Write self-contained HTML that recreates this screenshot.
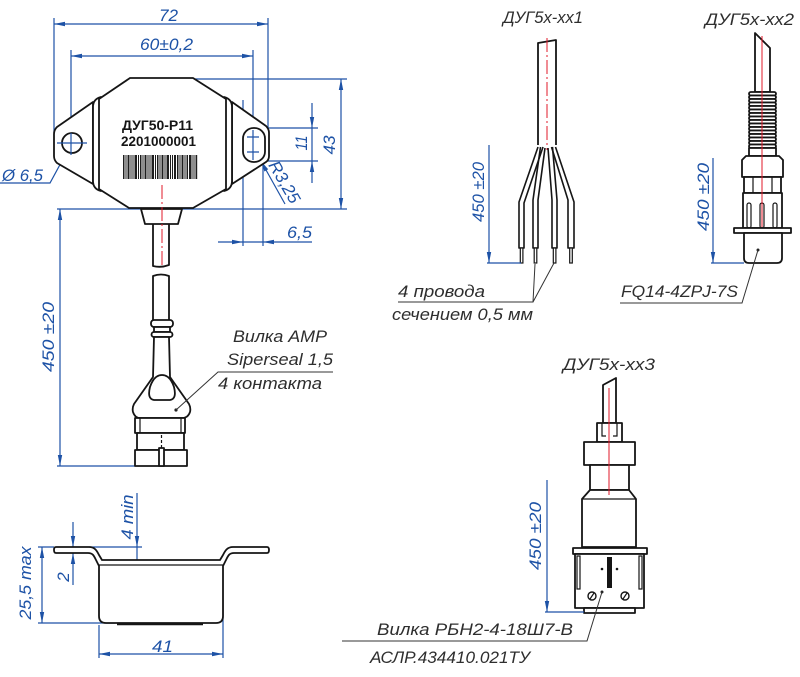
<!DOCTYPE html>
<html><head><meta charset="utf-8"><style>
html,body{margin:0;padding:0;background:#fff;}
svg{display:block;}
.b{stroke:#1d52a6;stroke-width:1.2;fill:none;}
.ba{fill:#1d52a6;stroke:none;}
.k{stroke:#151515;stroke-width:1.8;fill:#fff;stroke-linejoin:round;}
.kn{stroke:#151515;stroke-width:1.8;fill:none;stroke-linejoin:round;}
.kt{stroke:#151515;stroke-width:1.2;fill:none;}
.r{stroke:#e0192a;stroke-width:1;fill:none;}
.dt{font-family:"Liberation Sans",sans-serif;font-style:italic;font-size:17px;fill:#1d52a6;}
.lt{font-family:"Liberation Sans","Noto Sans CJK SC",sans-serif;font-style:italic;font-size:17px;fill:#2e2e2e;}
.bt{font-family:"Liberation Sans",sans-serif;font-weight:bold;font-size:13.5px;fill:#151515;}
</style></head><body>
<svg width="800" height="677" viewBox="0 0 800 677" xmlns="http://www.w3.org/2000/svg">
<rect width="800" height="677" fill="#fff"/>

<!-- ============ MAIN SENSOR TOP VIEW ============ -->
<g class="b">
  <path d="M54,24 L268,24 M54,18 L54,133 M268,18 L268,128"/>
  <path d="M71,56 L253,56 M71,50 L71,155 M253,50 L253,157"/>
  <path d="M191,79 L347,79 M57,209 L347,209 M341,79 L341,209"/>
  <path d="M312,103 L312,183 M267,128 L318,128 M263,161 L318,161"/>
  <path d="M218,242 L312,242 M243,100 L243,246 M263,160 L263,246"/>
  <path d="M88,113 L50,183 L0,183"/>
  <path d="M57,143 L87,143"/>
  <path d="M247,137 L259,137 M247,152 L259,152"/>
  <path d="M261,161 L285,204"/>
  <path d="M60,209 L60,466 M57,466 L135,466"/>
</g>
<g class="ba">
  <polygon points="54,24 65,21.8 65,26.2"/>
  <polygon points="268,24 257,21.8 257,26.2"/>
  <polygon points="71,56 82,53.8 82,58.2"/>
  <polygon points="253,56 242,53.8 242,58.2"/>
  <polygon points="341,79 338.8,90 343.2,90"/>
  <polygon points="341,209 338.8,198 343.2,198"/>
  <polygon points="312,128 309.8,117 314.2,117"/>
  <polygon points="312,161 309.8,172 314.2,172"/>
  <polygon points="243,242 232,239.8 232,244.2"/>
  <polygon points="263,242 274,239.8 274,244.2"/>
  <polygon points="75.8,135.2 82.9,126.5 79.1,124.5"/>
  <polygon points="66.2,152.8 62.9,163.6 59.1,161.5"/>
  <polygon points="261,161 264.4,171.5 268.2,169.3"/>
  <polygon points="60,209 57.8,220 62.2,220"/>
  <polygon points="60,466 57.8,455 62.2,455"/>
</g>
<text class="dt" x="159" y="21" textLength="19" lengthAdjust="spacingAndGlyphs">72</text>
<text class="dt" x="140" y="50" textLength="53" lengthAdjust="spacingAndGlyphs">60±0,2</text>
<text class="dt" x="2" y="181" textLength="41" lengthAdjust="spacingAndGlyphs">Ø 6,5</text>
<text class="dt" x="287" y="238" textLength="25" lengthAdjust="spacingAndGlyphs">6,5</text>
<text class="dt" transform="translate(307,143) rotate(-90)" text-anchor="middle" textLength="15" lengthAdjust="spacingAndGlyphs">11</text>
<text class="dt" transform="translate(335,145) rotate(-90)" text-anchor="middle" textLength="19" lengthAdjust="spacingAndGlyphs">43</text>
<text class="dt" transform="translate(268,165) rotate(60)" textLength="46" lengthAdjust="spacingAndGlyphs">R3,25</text>
<text class="dt" transform="translate(54,337) rotate(-90)" text-anchor="middle" textLength="70" lengthAdjust="spacingAndGlyphs">450 ±20</text>

<path class="k" d="M93,102 L57,127 Q54,130 54,134 L54,156 Q54,160 57,163 L93,184 Z"/>
<path class="k" d="M232,102 L266,126 Q269,129 269,133 L269,156 Q269,160 266,162 L232,184 Z"/>
<circle class="kn" cx="72" cy="143" r="10"/>
<rect class="kn" x="243" y="128" width="22" height="34" rx="10.5"/>
<path class="b" d="M57,143 L87,143 M71,133 L71,155 M247,137 L259,137 M247,152 L259,152 M253,130 L253,160"/>
<path class="k" d="M101,97 Q93,99 93,107 L93,181 Q93,189 101,191 Z"/>
<path class="k" d="M224,97 Q232,99 232,107 L232,181 Q232,189 224,191 Z"/>
<path class="k" d="M130,78 L193,78 L226,99 L226,189 L193,208 L129,208 L99,189 L99,99 Z"/>
<text class="bt" x="122" y="130" textLength="71" lengthAdjust="spacingAndGlyphs">ДУГ50-Р11</text>
<text class="bt" x="121" y="146" textLength="75" lengthAdjust="spacingAndGlyphs">2201000001</text>
<g fill="#1e1e1e">
<rect x="123" y="155" width="1.5" height="24"/><rect x="125.5" y="155" width="1" height="24"/>
<rect x="127.5" y="155" width="2" height="24"/><rect x="130.5" y="155" width="1" height="24"/>
<rect x="132.5" y="155" width="1" height="24"/><rect x="134.5" y="155" width="2.5" height="24"/>
<rect x="138" y="155" width="1" height="24"/><rect x="140" y="155" width="1.5" height="24"/>
<rect x="142.5" y="155" width="1" height="24"/><rect x="144.5" y="155" width="2" height="24"/>
<rect x="147.5" y="155" width="1" height="24"/><rect x="149.5" y="155" width="1" height="24"/>
<rect x="151.5" y="155" width="2.5" height="24"/><rect x="155" y="155" width="1" height="24"/>
<rect x="157" y="155" width="1.5" height="24"/><rect x="159.5" y="155" width="1" height="24"/>
<rect x="161.5" y="155" width="2" height="24"/><rect x="164.5" y="155" width="1" height="24"/>
<rect x="166.5" y="155" width="2.5" height="24"/><rect x="170" y="155" width="1" height="24"/>
<rect x="172" y="155" width="1" height="24"/><rect x="174" y="155" width="2" height="24"/>
<rect x="177" y="155" width="1.5" height="24"/><rect x="179.5" y="155" width="1" height="24"/>
<rect x="181.5" y="155" width="2" height="24"/><rect x="184.5" y="155" width="1" height="24"/>
<rect x="186.5" y="155" width="1.5" height="24"/><rect x="189" y="155" width="2.5" height="24"/>
<rect x="192.5" y="155" width="1" height="24"/><rect x="194.5" y="155" width="1" height="24"/>
<rect x="196" y="155" width="1.2" height="24"/>
</g>
<path class="k" d="M141,209 L182,209 L178,224 L145,224 Z"/>
<path class="kn" d="M153,224 L153,266 Q161,268 169,265 L169,224"/>
<path class="r" stroke-dasharray="14,3,2,3" d="M162,185 L162,266"/>
<path class="kn" d="M153,320 L153,276 Q161,273 169,276 L169,320"/>
<rect class="k" x="151" y="320" width="22" height="7" rx="3"/>
<rect class="k" x="154" y="327" width="16" height="5"/>
<rect class="k" x="151.5" y="332" width="21" height="5" rx="2.5"/>
<path class="k" d="M154,337 L153,377 L134,404 Q132,408 133,412 Q135,418 140,418 L182,418 Q188,418 190,412 Q191,408 189,404 L170,377 L169,337 Z"/>
<path class="kn" d="M162,375 Q170,375 174,387 Q177,399 170,400 L154,400 Q147,399 150,387 Q154,375 162,375 Z"/>
<rect class="k" x="135" y="418" width="50" height="15"/>
<path class="kt" d="M140,418 L140,433 M181,418 L181,433"/>
<rect class="k" x="137" y="433" width="47" height="17"/>
<rect class="k" x="135" y="450" width="52" height="16"/>
<rect class="k" x="159" y="448" width="5" height="18"/>
<path class="kt" stroke-dasharray="3,2" d="M161.5,435 L161.5,448"/>
<circle cx="176" cy="410" r="1.6" fill="#222"/>
<path d="M176,410 L218,372 L333,372" stroke="#333" stroke-width="1" fill="none"/>
<text class="lt" x="233" y="342" textLength="94" lengthAdjust="spacingAndGlyphs">Вилка AMP</text>
<text class="lt" x="227" y="365" textLength="106" lengthAdjust="spacingAndGlyphs">Siperseal 1,5</text>
<text class="lt" x="218" y="389" textLength="104" lengthAdjust="spacingAndGlyphs">4 контакта</text>

<!-- ============ SIDE VIEW ============ -->
<g class="b">
  <path d="M42,547 L42,623 M38,547 L54,547 M38,623 L115,623"/>
  <path d="M73,522 L73,585"/>
  <path d="M137,493 L137,583 M89,547 L142,547"/>
  <path d="M99,654 L223,654 M99,625 L99,658 M223,600 L223,658"/>
</g>
<g class="ba">
  <polygon points="42,547 39.8,558 44.2,558"/>
  <polygon points="42,623 39.8,612 44.2,612"/>
  <polygon points="73,547 70.8,536 75.2,536"/>
  <polygon points="73,553 70.8,564 75.2,564"/>
  <polygon points="137,547 134.8,536 139.2,536"/>
  <polygon points="137,565 134.8,576 139.2,576"/>
  <polygon points="99,654 110,651.8 110,656.2"/>
  <polygon points="223,654 212,651.8 212,656.2"/>
</g>
<path class="k" d="M56,547 L89,547 C95,547 97,551 99,555 L102,560 L220,560 L223,555 C225,551 227,547 233,547 L267,547 Q269,547 269,550 Q269,553 267,553 L234,553 C229,553 228,556 226,560 L223,566 L223,616 Q223,623 216,623 L106,623 Q99,623 99,616 L99,566 L96,560 C94,556 93,553 88,553 L56,553 Q54,553 54,550 Q54,547 56,547 Z"/>
<path class="kt" d="M99,565 L223,565"/>
<path d="M117,624 L203,624" stroke="#151515" stroke-width="2.5"/>
<text class="dt" transform="translate(31,583) rotate(-90)" text-anchor="middle" textLength="73" lengthAdjust="spacingAndGlyphs">25,5 max</text>
<text class="dt" transform="translate(69,577) rotate(-90)" text-anchor="middle">2</text>
<text class="dt" transform="translate(133,517) rotate(-90)" text-anchor="middle" textLength="45" lengthAdjust="spacingAndGlyphs">4 min</text>
<text class="dt" x="152" y="652" textLength="21" lengthAdjust="spacingAndGlyphs">41</text>

<!-- ============ VARIANT 1 ============ -->
<text class="lt" x="503" y="23" textLength="80" lengthAdjust="spacingAndGlyphs">ДУГ5х-хх1</text>
<path class="kn" d="M538,145 L538,43 L556,40 L556,145"/>
<path class="r" stroke-dasharray="14,3,2,3" d="M547,38 L547,150"/>
<g class="kn" style="stroke-width:1.6">
  <path d="M538,147 L519,202 L519,248 L524,248 L524,203 L543,147"/>
  <path d="M540.5,147 L533,200 L533,248 L538,248 L538,200 L545,148"/>
  <path d="M548,148 L552,200 L552,248 L557,248 L557,200 L552.5,147"/>
  <path d="M551.5,147 L568,200 L568,248 L574,248 L574,202 L555.5,147"/>
</g>
<g class="kt" style="fill:#fff">
  <rect x="520.3" y="248" width="2.6" height="15"/>
  <rect x="534.2" y="248" width="2.6" height="15"/>
  <rect x="553.3" y="248" width="2.6" height="15"/>
  <rect x="569.7" y="248" width="2.6" height="15"/>
</g>
<path class="b" d="M489,145 L489,263 M487,263 L521,263"/>
<polygon class="ba" points="489,263 486.8,252 491.2,252"/>
<text class="dt" transform="translate(484,192) rotate(-90)" text-anchor="middle" textLength="60" lengthAdjust="spacingAndGlyphs">450 ±20</text>
<path d="M398,302 L533,302 L535,264 M533,302 L554,263" stroke="#333" stroke-width="1" fill="none"/>
<text class="lt" x="398" y="297" textLength="87" lengthAdjust="spacingAndGlyphs">4 провода</text>
<text class="lt" x="392" y="320" textLength="141" lengthAdjust="spacingAndGlyphs">сечением 0,5 мм</text>

<!-- ============ VARIANT 2 ============ -->
<text class="lt" x="705" y="25" textLength="89" lengthAdjust="spacingAndGlyphs">ДУГ5х-хх2</text>
<path class="k" d="M755,92 L755,33 L770,48 L770,92 Z"/>
<g class="kt" style="fill:#fff;stroke-width:1.8">
  <rect x="749" y="92" width="27" height="3.5" rx="1.7"/>
  <rect x="749" y="95.5" width="27" height="3.5" rx="1.7"/>
  <rect x="749" y="99" width="27" height="3.5" rx="1.7"/>
  <rect x="749" y="102.5" width="27" height="3.5" rx="1.7"/>
  <rect x="749" y="106" width="27" height="3.5" rx="1.7"/>
  <rect x="749" y="109.5" width="27" height="3.5" rx="1.7"/>
  <rect x="749" y="113" width="27" height="3.5" rx="1.7"/>
  <rect x="749" y="116.5" width="27" height="3.5" rx="1.7"/>
  <rect x="749" y="120" width="27" height="3.5" rx="1.7"/>
  <rect x="749" y="123.5" width="27" height="3.5" rx="1.7"/>
  <rect x="749" y="127" width="27" height="3.5" rx="1.7"/>
  <rect x="749" y="130.5" width="27" height="3.5" rx="1.7"/>
  <rect x="749" y="134" width="27" height="3.5" rx="1.7"/>
  <rect x="749" y="137.5" width="27" height="3.5" rx="1.7"/>
  <rect x="749" y="141" width="27" height="3.5" rx="1.7"/>
  <rect x="749" y="144.5" width="27" height="3.5" rx="1.7"/>
</g>
<rect class="k" x="749" y="148" width="27" height="8"/>
<path class="k" d="M742,177 L742,160 L746,156 L779,156 L783,160 L783,177 Z"/>
<rect class="k" x="744" y="177" width="37" height="16"/>
<path class="kt" d="M753,177 L753,193 M772,177 L772,193"/>
<rect class="k" x="743" y="193" width="39" height="35"/>
<g class="kt">
  <rect x="747" y="203" width="4" height="25" rx="2"/>
  <rect x="760" y="203" width="4" height="25" rx="2"/>
  <rect x="773" y="203" width="4" height="25" rx="2"/>
</g>
<rect class="k" x="734" y="228" width="57" height="5"/>
<path class="k" d="M744,233 L744,258 Q744,263 749,263 L777,263 Q782,263 782,258 L782,233 Z"/>
<path class="r" d="M762,36 L762,227"/>
<path class="b" d="M713,158 L713,263 M711,263 L744,263"/>
<polygon class="ba" points="713,263 710.8,252 715.2,252"/>
<text class="dt" transform="translate(709,197) rotate(-90)" text-anchor="middle" textLength="68" lengthAdjust="spacingAndGlyphs">450 ±20</text>
<circle cx="758" cy="250" r="1.5" fill="#222"/>
<path d="M620,303 L742,303 L758,250" stroke="#333" stroke-width="1" fill="none"/>
<text class="lt" x="621" y="297" textLength="117" lengthAdjust="spacingAndGlyphs">FQ14-4ZPJ-7S</text>

<!-- ============ VARIANT 3 ============ -->
<text class="lt" x="563" y="370" textLength="92" lengthAdjust="spacingAndGlyphs">ДУГ5х-хх3</text>
<path class="k" d="M603,423 L603,385 L616,378 L616,423 Z"/>
<rect class="k" x="597" y="423" width="25" height="19"/>
<path class="kt" d="M602,423 L602,436 L606,436 M617,423 L617,436 L613,436"/>
<rect class="k" x="584" y="442" width="51" height="23"/>
<rect class="k" x="590" y="465" width="39" height="25"/>
<path class="k" d="M590,490 L582,499 L582,547 L636,547 L636,499 L629,490 Z"/>
<path class="kt" d="M582,499 L636,499"/>
<path class="r" d="M609,388 L609,495"/>
<rect class="k" x="573" y="548" width="74" height="6"/>
<rect class="k" x="575" y="554" width="69" height="54"/>
<g class="kt"><rect x="577" y="556" width="3" height="33"/><rect x="639" y="556" width="3" height="33"/></g>
<rect x="607" y="557" width="5" height="31" fill="#151515"/>
<circle cx="602" cy="569" r="1.3" fill="#151515"/>
<circle cx="617" cy="569" r="1.3" fill="#151515"/>
<circle class="kn" cx="592" cy="596" r="4" style="stroke-width:1.4"/>
<circle class="kn" cx="625" cy="596" r="4" style="stroke-width:1.4"/>
<path class="kt" d="M590,599 L594,593 M623,599 L627,593"/>
<rect class="k" x="584" y="608" width="51" height="5"/>
<path class="b" d="M547,480 L547,612 M545,612 L584,612"/>
<polygon class="ba" points="547,612 544.8,601 549.2,601"/>
<text class="dt" transform="translate(541,536) rotate(-90)" text-anchor="middle" textLength="68" lengthAdjust="spacingAndGlyphs">450 ±20</text>
<circle cx="602" cy="592" r="1.5" fill="#222"/>
<path d="M342,641 L587,641 L602,592" stroke="#333" stroke-width="1" fill="none"/>
<text class="lt" x="377" y="635" textLength="196" lengthAdjust="spacingAndGlyphs">Вилка РБН2-4-18Ш7-В</text>
<text class="lt" x="370" y="663" textLength="160" lengthAdjust="spacingAndGlyphs">АСЛР.434410.021ТУ</text>
</svg>
</body></html>
